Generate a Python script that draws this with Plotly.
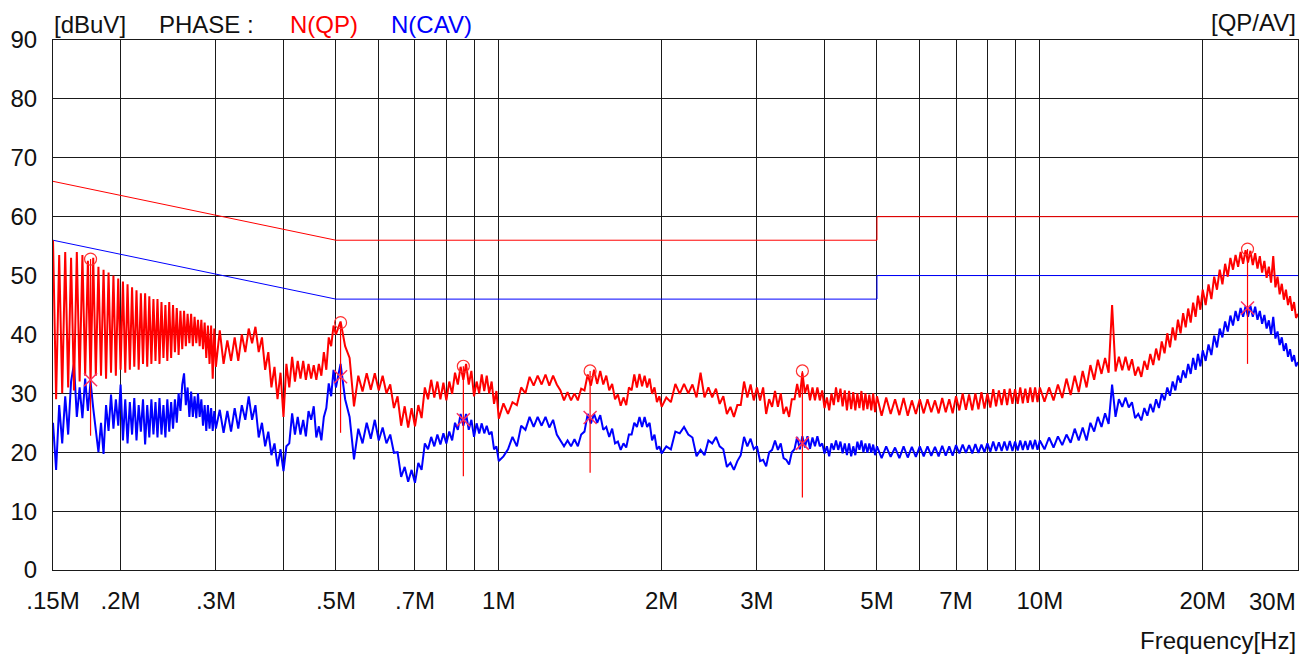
import math
import plotly.graph_objects as go

# ---------------- data (frequency in kHz, level in dBuV) ----------------
F_A = [150,152,154,156,158,160,162,164,166,168,170,172,174,176,178,180,182,184,186,188,
       190,192,194,196,198,200,202,204,206,208,210,212,214,216,218,220,222,224,226,228,
       230,232,234,236,238,240,242,244,246,248,250,252,254,256,258,260,262,264,266,268,
       270,272,274,276,278,280,282,284,286,288,290,292,294,296,298,300]
QP_A = [56,29,53.5,30,54,31,53,30.5,54,32,53.5,33,52.5,32,53,33,51.5,33,51,32.5,
        50.5,33.5,50,33,49.5,34,49,33.5,48.5,34,48,34.5,47.5,34,47,35,47,34.5,46.5,35,
        46,35.5,46,35,45.5,36,45,35.5,45.5,36,45,37,44.5,36.5,44,37.5,44,38,43.5,38.5,
        43.5,38,43,38.5,42.5,38,42.5,37.5,42,36,41.5,35,41.5,32.5,41,34.5]
AV_A = [25,17,28,21.5,29.5,23,32,35,26,31,25.8,32.5,27,32,27.5,24,20,25,19.7,28,
        23.6,29.8,24,29,24.5,31.5,22,29,21.5,28.5,23,29.2,22,28,23.5,29,21.3,28,22.5,29,
        23,28.5,22.5,29.2,23,28,22.5,29,23.5,28.5,24,29,25,30,27,31.5,33.4,28,31,26,
        30.3,26,29.5,25.8,30,26,29,24.5,28,23.6,28,24,27.5,23.6,27,24]

F_B = [305,310,315,320,325,330,335,340,345,350,355,360,365,370,375,380,385,390,395,400,
       405,410,415,420,425,430,435,440,445,450,455,460,465,470,475,480,485,490,495,500]
QP_B = [40.7,35,39,35.5,39.5,35.5,40,37,41,38.5,41.3,37,39.5,34,37,31,34.5,29,33.5,26,
        35,31,36.2,32,35.5,32.5,35.5,32.3,35,32.5,34.8,32.3,35,33,37,34,39.5,38,41.5,40]
AV_B = [27.2,23.3,27,23.5,27.5,24,28,25.5,29.5,25.5,28,22.5,25,21,23.5,19.5,21.5,17.6,20.5,16.8,
        21,21.5,26.6,23,26,23,25.5,22.7,27,25.5,27.8,22.5,24.4,22,26,27.5,31.7,29.5,34,31]

F_C = [510,520,530,540,550,560,570,580,590,600,610,620,630,640,650,660,670,680,690,700,
       710,720,730,740,750,760,770,780,790,800,810,820,830,840,850,860,870,880,890,900,
       910,920,930,940,950,960,970,980,990,1000]
QP_C = [42.2,38,36,27.8,33,30.3,33.4,30.6,33.4,30.5,33,30,31.5,27.5,29.5,24.5,27.8,24.2,27.5,24.4,
        28,25.8,31,29,32.3,29.3,32,29,31.8,28.8,32,29.9,33.5,31.5,34.5,32.3,35,31.5,33.8,29.5,
        32,30,33.2,30.4,33,30,32,28.2,30.4,25.7]
AV_C = [35,29,26,18.8,24,21.5,25,22.3,25.5,22,24.2,21.5,23,19.9,20,15.8,17.5,15,17,14.8,
        18.2,17,21.5,20.5,22.6,21,23,21.3,23.2,21.5,23.5,22,25,23.8,26.5,24.5,26.5,23.8,25.5,22.6,
        24.9,23.2,24.9,23.2,24.5,23,23.5,20.5,21,18.5]

F_D = [1020,1040,1060,1080,1100,1120,1140,1160,1180,1200,1220,1240,1260,1280,1300,1320,1340,1360,1380,1400,
       1420,1440,1460,1480,1500,1520,1540,1560,1580,1600,1620,1640,1660,1680,1700,1720,1740,1760,1780,1800,
       1820,1840,1860,1880,1900,1920,1940,1960,1980,2000]
QP_D = [28.3,26.5,28.5,28,31,30,32.8,31.3,33,31.5,33.2,31.3,33,31.5,30.5,28.8,30.2,28.8,30,28.8,
        30.8,30.5,33.2,31.3,34,31.6,33.8,31.5,33,30.5,31.6,29,29.8,27.9,29.3,28,31,30.5,33.2,31,
        33.3,31.2,33,31,32.5,29.9,31,28.5,29.5,27.7]
AV_D = [19.3,20.5,22.6,21,24.5,23.8,26,24.3,26,24.5,26,24.2,25.5,23,22,21,22,21,22.2,21,
        23,23.5,26.5,24.9,26.5,25,26.3,23.8,24.3,22.6,24,21.5,21.8,20.4,21.5,20.8,23,23,25,24.3,
        26,24.3,26,24.3,25,22,23,20.5,21,19.8]

F_E = [2040,2080,2120,2160,2200,2240,2280,2320,2360,2400,2440,2480,2520,2560,2600,2640,2680,2720,2760,2800,
       2840,2880,2920,2960,3000,3040,3080,3120,3160,3200,3240,3280,3320,3360,3400,3440,3480,3520,3560,3600,
       3640,3680,3720,3760,3800,3840,3880,3920,3960,4000,4040,4080,4120,4160,4200,4240,4280,4320,4360,4400,
       4440,4480,4520,4560,4600,4640,4680,4720,4760,4800,4840,4880,4920,4960,5000]
QP_E = [29.3,28.5,31.6,29.9,31.6,30,31.5,29.3,33.5,29.3,31,29.3,30.8,28.2,29.5,26.5,27.7,26,28,28,
        32,29.3,31.5,28.8,31,28.8,31,26.5,29,27.7,30.4,27.7,30,26.5,27.7,26,29,29,31.6,29.3,
        33.5,30,31.5,28.8,31,28.8,31,28.8,30.5,27.5,29.3,27.1,30,28,31,28.5,30.8,27.8,30.5,27.1,
        30.4,27.3,30.2,27.1,30,27.5,30.4,27.1,30,27.3,29.8,27.1,30,26.8,29.5]
AV_E = [21,20.5,23.5,23.2,24.3,23,22.5,19.3,20.4,19.5,22,21.5,22.6,21,20.5,17.5,18.2,17,18.5,19.5,
        22.6,21,22.3,20.5,21,18.5,18.7,17.6,20,20.4,22,20.4,21.5,19,18.7,17.9,20,20.5,22.6,20.5,
        22.7,20.8,22.7,20.6,22.5,21,22.7,21,21.5,19.8,21,19.3,21.5,20.4,22,20.4,21.8,19.8,21.5,19.5,
        21.5,19.3,21,19.5,21.8,20.4,22,20,21.5,19.9,21.5,19.9,21.3,19.5,21]

F_F = [5100,5200,5300,5400,5500,5600,5700,5800,5900,6000,6100,6200,6300,6400,6500,6600,6700,6800,6900,7000,
       7100,7200,7300,7400,7500,7600,7700,7800,7900,8000,8100,8200,8300,8400,8500,8600,8700,8800,8900,9000,
       9100,9200,9300,9400,9500,9600,9700,9800,9900,10000]
QP_F = [26.2,29.3,26.5,29,26.3,29.2,26.2,28.8,26.5,29,26.6,29,26.8,28.8,26.6,29.2,26.8,29,26.6,29.5,
        27.1,30,27.2,29.8,27.1,30,27.3,30.2,27.4,30,27.6,30.7,27.8,30.5,28,30.7,28,30.8,28.2,30.7,
        28.2,31,28.3,30.8,28.4,31,28.5,31,28.5,31]
AV_F = [19,21,19.2,20.8,19,21,19.1,20.9,19.2,21,19.3,21,19.4,20.9,19.3,21.1,19.4,21,19.4,21.2,
        19.8,21.3,19.9,21.2,19.8,21.4,19.9,21.3,20,21.5,20.1,21.8,20.2,21.7,20.2,21.8,20.3,21.9,20.2,21.8,
        20.3,22,20.4,21.9,20.4,22,20.5,22.1,20.4,22]

F_G = [10200,10400,10600,10800,11000,11200,11400,11600,11800,12000,12200,12400,12600,12800,13000,13200,13400,13600,13800,14000,
       14200,14400,14600,14800,15000,15200,15400,15600,15800,16000,16200,16400,16600,16800,17000,17200,17400,17600,17800,18000,
       18200,18400,18600,18800,19000,19200,19400,19600,19800,20000]
QP_G = [28.6,31,28.8,31.5,29.2,32.5,29.7,33,30.2,33.8,31,34.8,32.3,35.7,33.3,36,33.5,45,33.7,36.2,
        33.9,36.2,33.9,35.8,33,34.5,32.8,35.5,34,36.7,34.8,37.6,35.6,38.8,36.8,40.2,37.8,41.2,39,42.5,
        40.2,43.6,41.2,44.4,42,45.4,43,46.6,44.2,47.6]
AV_G = [20.5,22.5,20.8,22.7,21.2,23,21.6,24,22,24.2,22,25,23.5,26,24.3,26.6,24.8,31.5,26,29,
        27.7,29.3,27.6,28.5,25.8,26.5,25.4,27.5,26.2,28.2,26.8,29,27.5,30,28.8,31,29.6,32,30.5,33,
        31.8,33.9,32.6,35,33.3,36,34,36.7,34.6,37.3]

F_H = [20250,20500,20750,21000,21250,21500,21750,22000,22250,22500,22750,23000,23250,23500,23750,24000,24250,24500,24750,25000,
       25250,25500,25750,26000,26250,26500,26750,27000,27250,27500,27750,28000,28250,28500,28750,29000,29250,29500,29750,30000]
QP_H = [45,48.5,46,49.8,47.6,51,48.5,52,49.8,53,51,53.5,51.5,54,52,54.3,52.2,54.2,51.8,53.8,
        51.2,53.3,50.5,52.5,49.6,51.5,48.8,53.3,48,49.8,46.8,48.6,45.9,47.6,45,46.5,44,45.5,42.8,43.5]
AV_H = [35.5,38.3,36.5,39.8,37.8,41,39.5,42.2,40.5,43.2,41.5,44,42.3,44.5,43,44.8,43,44.9,43,44.7,
        42.5,44,41.8,43.3,41,42.4,40,43,39.3,40.5,38.2,39.5,37.2,38.5,36.2,37.5,35.4,36.5,34.6,35.3]

# limit lines (MHz, dBuV)
LIMIT_F = [0.15, 0.5, 5, 5, 30]
QP_LIMIT = [66, 56, 56, 60, 60]
AV_LIMIT = [56, 46, 46, 50, 50]

# final-measurement peaks (MHz, dBuV)
PEAK_F = [0.176, 0.51, 0.86, 1.475, 3.64, 24.2]
PEAK_QP = [52.8, 42.0, 34.6, 33.8, 33.8, 54.5]
PEAK_AV = [32.3, 32.8, 25.5, 25.9, 21.5, 44.5]
PEAK_LOW = [22.8, 23.3, 15.9, 16.5, 12.3, 35.0]

# axis ticks / grid
GRID_MHZ = [0.15, 0.2, 0.3, 0.4, 0.5, 0.6, 0.7, 0.8, 0.9, 1, 2, 3, 4, 5, 6, 7, 8, 9, 10, 20, 30]
GRID_LABELS = ['.15M', '.2M', '.3M', '', '.5M', '', '.7M', '', '', '1M', '2M', '3M', '', '5M', '', '7M', '', '',
               '10M', '20M', '']
LAST_LABEL = '30M'
Y_TICKS = [0, 10, 20, 30, 40, 50, 60, 70, 80, 90]

# ---------------- assemble ----------------
segs = [(F_A, QP_A, AV_A), (F_B, QP_B, AV_B), (F_C, QP_C, AV_C), (F_D, QP_D, AV_D),
        (F_E, QP_E, AV_E), (F_F, QP_F, AV_F), (F_G, QP_G, AV_G), (F_H, QP_H, AV_H)]
freq_mhz, qp, av = [], [], []
for f, q, a in segs:
    assert len(f) == len(q) == len(a), (len(f), len(q), len(a), f[0])
    freq_mhz += [v / 1000.0 for v in f]
    qp += q
    av += a

FONT = "Liberation Sans, Arial, sans-serif"
FS = 24
RED = "#ff0000"
BLUE = "#0000ff"

fig = go.Figure()

fig.add_trace(go.Scatter(x=LIMIT_F, y=QP_LIMIT, mode="lines", line=dict(color=RED, width=1), hoverinfo="skip"))
fig.add_trace(go.Scatter(x=LIMIT_F, y=AV_LIMIT, mode="lines", line=dict(color=BLUE, width=1), hoverinfo="skip"))

fig.add_trace(go.Scatter(x=freq_mhz, y=av, mode="lines", line=dict(color=BLUE, width=2), name="N(CAV)"))
fig.add_trace(go.Scatter(x=freq_mhz, y=qp, mode="lines", line=dict(color=RED, width=2), name="N(QP)"))

# vertical marker lines
vx, vy = [], []
for f, top, low in zip(PEAK_F, PEAK_QP, PEAK_LOW):
    vx += [f, f, None]
    vy += [top, low, None]
fig.add_trace(go.Scatter(x=vx, y=vy, mode="lines", line=dict(color=RED, width=1.2), hoverinfo="skip"))

fig.add_trace(go.Scatter(x=PEAK_F, y=PEAK_QP, mode="markers",
                         marker=dict(symbol="circle-open", size=12, color="#ff3030", line=dict(width=1.2))))
fig.add_trace(go.Scatter(x=PEAK_F, y=PEAK_AV, mode="markers",
                         marker=dict(symbol="x-thin-open", size=13, color="#ff3060", line=dict(width=1.5, color="#ff3060"))))

GRIDC = "#1a1a1a"
fig.update_xaxes(type="log", range=[math.log10(0.15) - 1e-7, math.log10(30) + 1e-7],
                 tickvals=GRID_MHZ, ticktext=GRID_LABELS, automargin=False,
                 showgrid=True, gridcolor=GRIDC, gridwidth=1,
                 showline=True, linecolor=GRIDC, linewidth=1, mirror=True,
                 ticks="outside", ticklen=9, tickcolor="rgba(0,0,0,0)",
                 tickfont=dict(family=FONT, size=FS, color="#111"), zeroline=False)
fig.update_yaxes(range=[0, 90], tickvals=Y_TICKS, automargin=False,
                 showgrid=True, gridcolor=GRIDC, gridwidth=1,
                 showline=True, linecolor=GRIDC, linewidth=1, mirror=True,
                 ticks="outside", ticklen=10, tickcolor="rgba(0,0,0,0)",
                 tickfont=dict(family=FONT, size=FS, color="#111"), zeroline=False)

# page body has an 8px margin: plot area lands at screen x 53..1298, y 40..570
def px_x(px):
    return (px - 53) / 1245.0

def px_y(py):
    return (570 - py) / 530.0

ann = [
    ("[dBuV]", 52, 25, "left", "#111"),
    ("PHASE :", 157, 25, "left", "#111"),
    ("N(QP)", 288, 25, "left", RED),
    ("N(CAV)", 389, 25, "left", BLUE),
    ("[QP/AV]", 1298, 23, "right", "#111"),
    ("Frequency[Hz]", 1298, 640, "right", "#111"),
    (LAST_LABEL, 1298, 601, "right", "#111"),
]
for text, x, y, anchor, col in ann:
    fig.add_annotation(text=text, x=px_x(x), y=px_y(y), xref="paper", yref="paper",
                       xanchor=anchor, yanchor="middle", showarrow=False,
                       font=dict(family=FONT, size=FS, color=col))

fig.update_layout(width=1306, height=649, margin=dict(l=45, r=16, t=32, b=87, autoexpand=False),
                  paper_bgcolor="white", plot_bgcolor="white", showlegend=False,
                  font=dict(family=FONT, size=FS, color="#111"))

fig.write_html("out.html")
